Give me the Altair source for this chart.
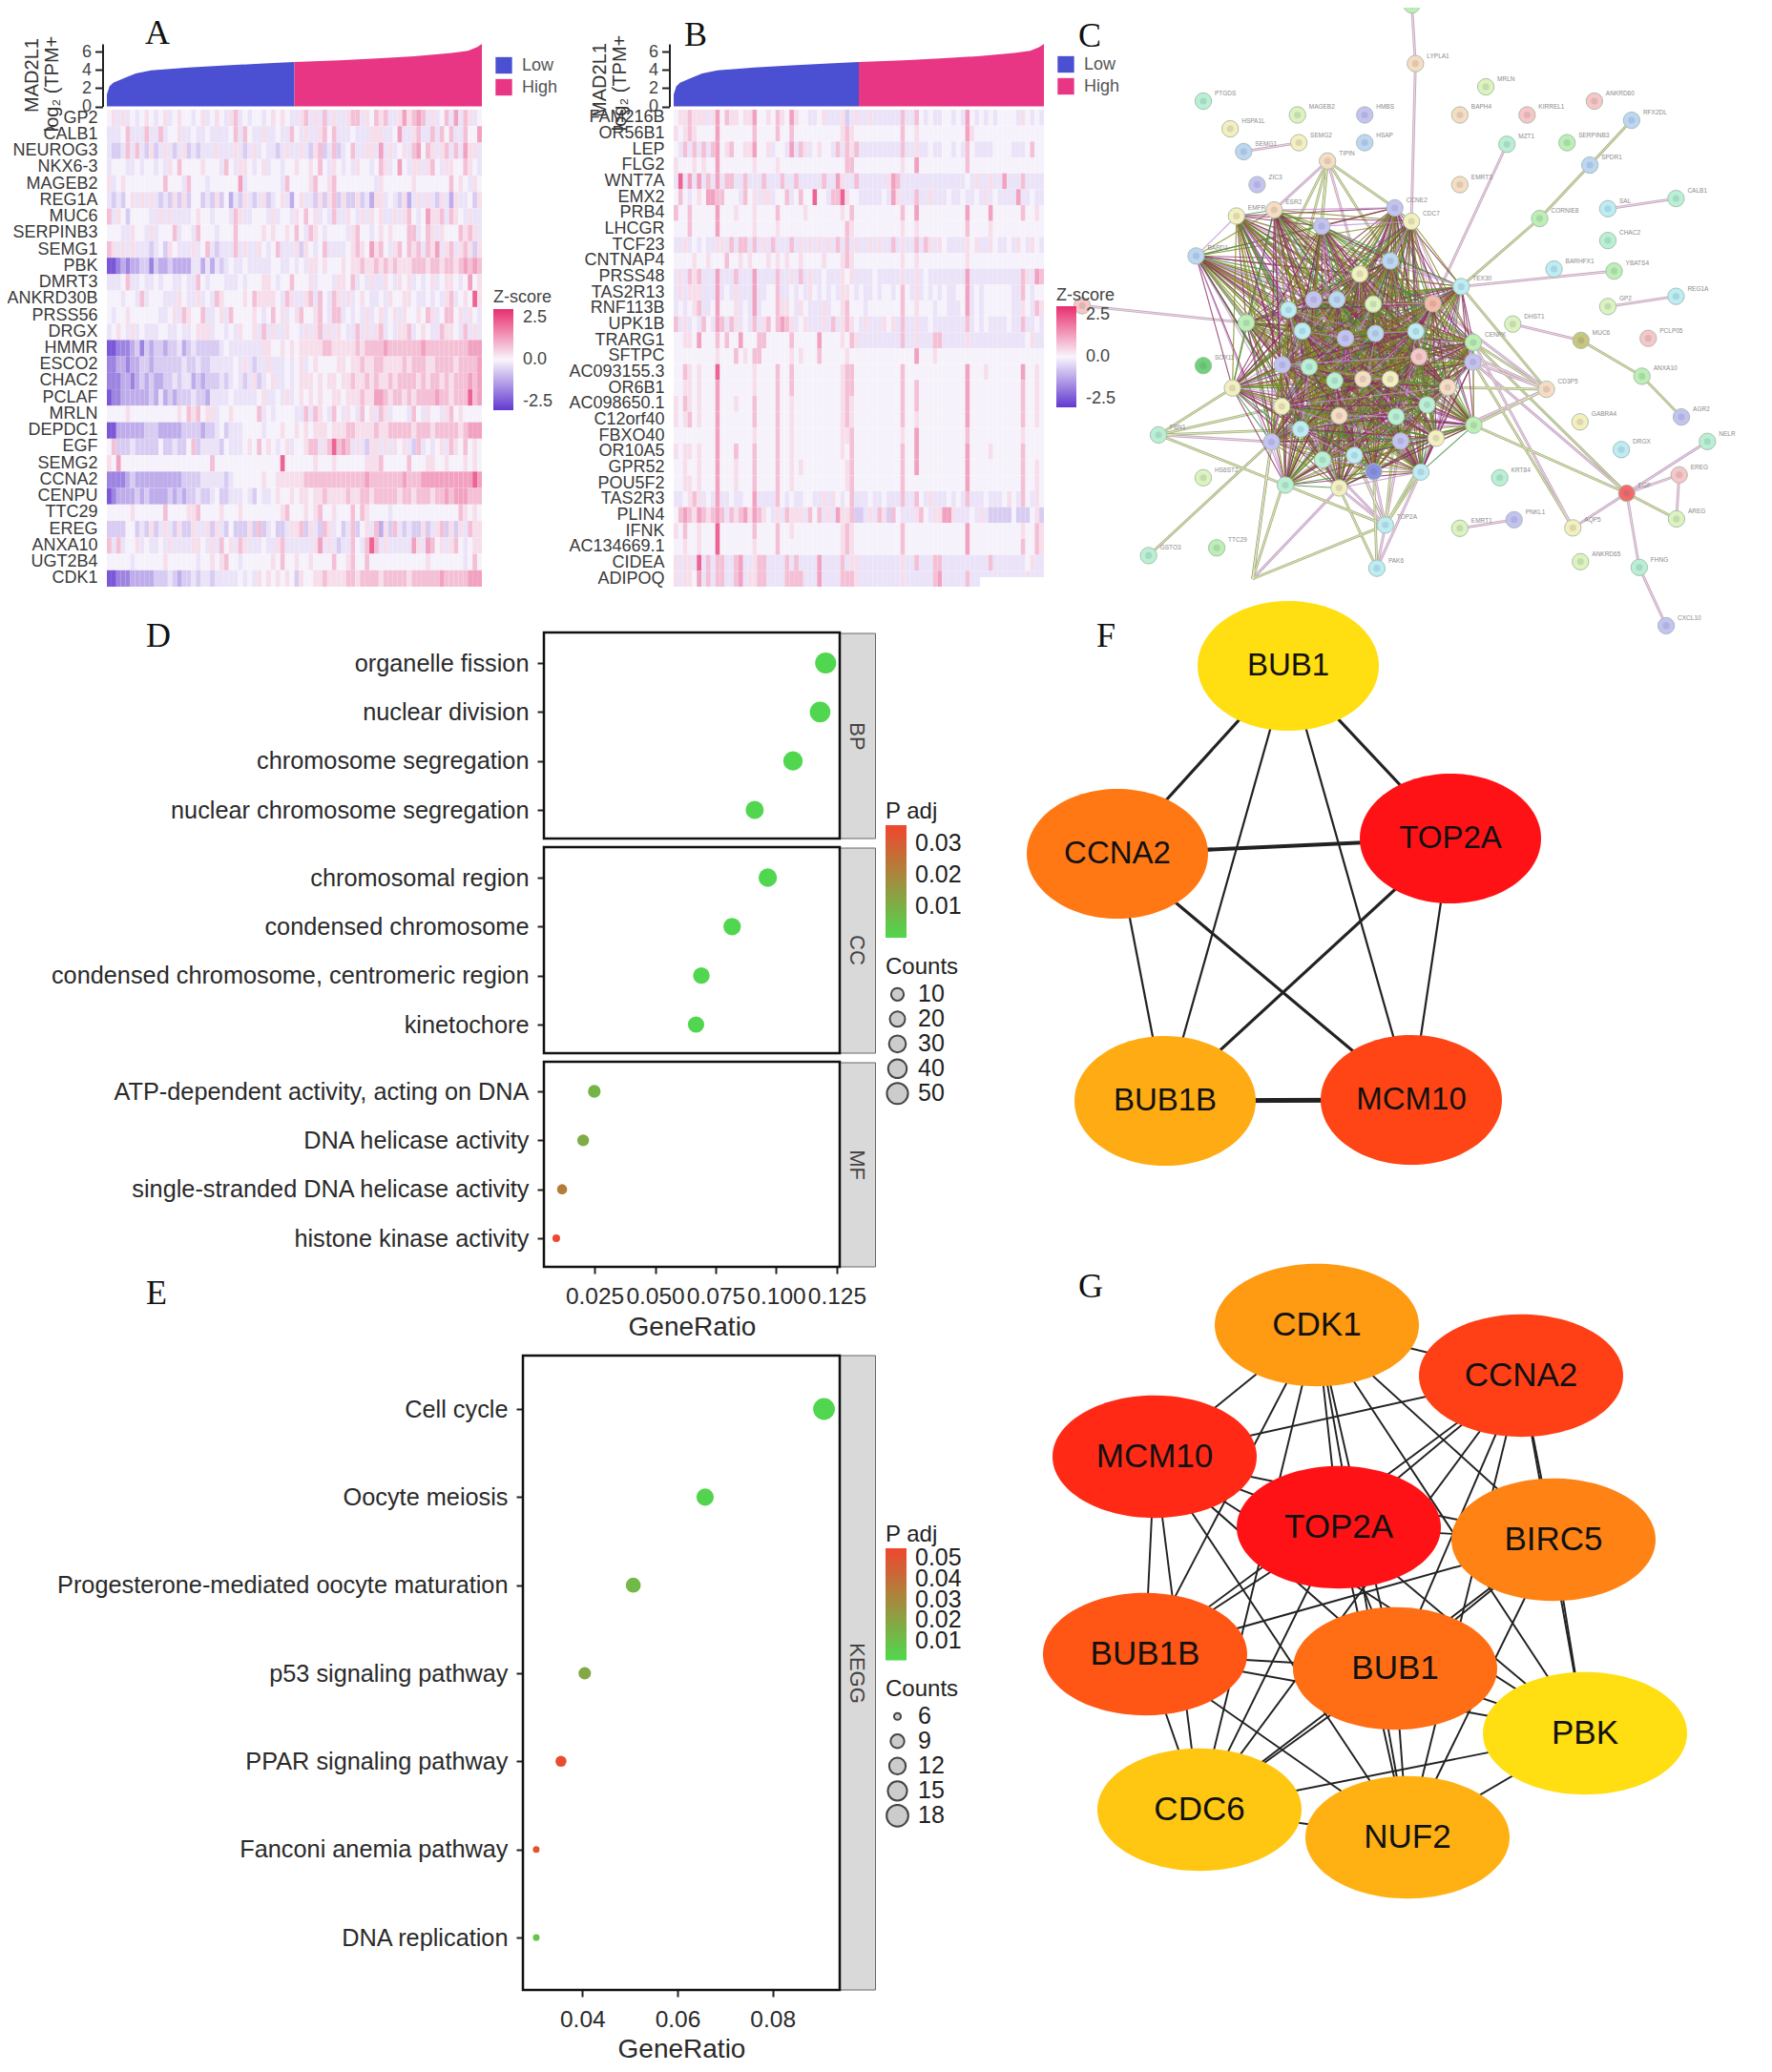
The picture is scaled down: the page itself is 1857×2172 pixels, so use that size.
import itertools
import altair as alt
import pandas as pd

alt.data_transformers.disable_max_rows()

W, H = 1841, 2156
SANS = "Liberation Sans"
SERIF = "Liberation Serif"


def px(v):
    return v - 8


# ---------- panels A / B: expression curve ----------
low_rank = [0, 0.7, 1.7, 4.7, 7.7, 11.8, 21.8, 31.9, 42, 50]
low_value = [1.3, 2.2, 2.6, 3.1, 3.6, 3.95, 4.25, 4.5, 4.7, 4.87]
high_rank = [50, 62, 72, 82, 92, 96.3, 98.8, 100]
high_value = [4.87, 5.05, 5.25, 5.5, 5.85, 6.1, 6.5, 6.85]

genes_a = ["GP2", "CALB1", "NEUROG3", "NKX6-3", "MAGEB2", "REG1A", "MUC6", "SERPINB3", "SEMG1", "PBK",
           "DMRT3", "ANKRD30B", "PRSS56", "DRGX", "HMMR", "ESCO2", "CHAC2", "PCLAF", "MRLN", "DEPDC1",
           "EGF", "SEMG2", "CCNA2", "CENPU", "TTC29", "EREG", "ANXA10", "UGT2B4", "CDK1"]
genes_b = ["FAM216B", "OR56B1", "LEP", "FLG2", "WNT7A", "EMX2", "PRB4", "LHCGR", "TCF23", "CNTNAP4",
           "PRSS48", "TAS2R13", "RNF113B", "UPK1B", "TRARG1", "SFTPC", "AC093155.3", "OR6B1", "AC098650.1",
           "C12orf40", "FBXO40", "OR10A5", "GPR52", "POU5F2", "TAS2R3", "PLIN4", "IFNK", "AC134669.1",
           "CIDEA", "ADIPOQ"]

# one digit per sample bin, read by eye: 0 = deep purple ... 5 = pale ... 9 = deep pink
z_levels = [-2.5, -1.8, -1.15, -0.65, -0.28, -0.05, 0.35, 0.8, 1.25, 2.2]
heat_a = [
    "5646454565 4564565545 6456546745 4554565654 4674647464 4677465767 4468678746 4574847645",
    "4445744474 4745564454 4544445747 5446445447 5464467574 4454446664 4584467447 4757447558",
    "4334747436 3464346343 4446444643 4645443464 4643673473 4574466484 6456478576 4674748664",
    "4555445455 4546575555 6555475466 5456455455 6556575465 4546554576 4585466467 5466557654",
    "6456555555 5575554755 5455555584 5555555475 5556755675 5555555465 5555565555 5557565465",
    "4343564646 4343636355 3436352436 4346345642 5644363673 6336342664 5436246464 3642644536",
    "7465355554 4646444456 5545554764 4555464554 6575645474 4654646564 4646754586 6747654644",
    "5554465546 4555745547 5554555755 5556565565 7547654555 5467554565 6555774576 4655576764",
    "7646464443 4536544464 5743444746 4465457444 6365457444 4567658675 4675767476 8467467636",
    "0012122331 3223222244 2424345445 4444455445 4546656555 6566766767 6766677767 7677678787",
    "4445744544 5455445447 5455544454 5556654557 5556455546 6574546446 5465645456 4566545856",
    "5554554745 5544465446 4547655556 5766665476 4467475476 4645654454 6556654454 5467456596",
    "5455655555 5445647655 7445647555 5654575645 6755675477 4545464564 5646556576 4577564654",
    "4565464544 4554454456 6645545465 5647464465 5464674646 5447464674 5466745654 4766547464",
    "0011123132 3323342343 3333454444 4446655656 5666667766 6667677778 7777777877 7777777888",
    "1122122332 3333334334 3344444546 4344644454 5645655556 6566766776 6667677766 7777677778",
    "1112212323 2233434423 2333434543 4634564454 5666565665 6676676766 7677776767 7676777878",
    "0112222223 2423233343 3244445444 4456445464 5656565566 5666766887 6776767777 8776777978",
    "5555655555 5555565767 5664556555 5574545555 4474765475 4654756476 4555475465 5467565555",
    "0022222233 3222223333 2334534445 5554555655 6565666566 6776666766 7777767776 7777767888",
    "5733343333 3533433573 4444354445 6575654564 5567746797 8746436646 4656437454 5647657565",
    "6585555555 5555555555 5575555555 5555555955 5555655565 5555566675 5555755566 5565556565",
    "1111232222 2222223333 4444434555 5556556666 6677777777 7777787777 7778777888 8888888898",
    "0122223232 2223232334 3345334445 4354456556 5665667666 6766776777 7767767776 7787888777",
    "5555565555 5575555667 5555655565 5555555675 5565675565 5575765555 4555555555 5555576565",
    "3333553436 3464363364 4636435333 6373453346 6736437645 3473564726 3743433634 6736364766",
    "7474556454 4546444466 5464756476 4445446744 4444684643 4475479746 4444486487 5646754566",
    "5555545555 5565555554 5565675545 5555565755 6556555575 5675575555 5555555565 5555554575",
    "0011122222 3334323343 4434444454 5465656565 3655667666 6776777767 7777677777 7877777888",
]
heat_b = [
    "5667666468 5766566855 6576586554 4564446346 4464444447 4475454455 4548545454 5555465454",
    "6567655558 5555555755 5575575555 5555556765 5555555557 5565555555 5558655555 5555555555",
    "5474747478 5675566855 6455484764 5655474767 4444444447 4464454455 4547544445 5554445755",
    "6555656558 5555555655 5565555555 5555555775 5555555556 5585555555 5557555555 5555555555",
    "4948484748 4774474447 4447447444 4474486447 4444446874 4444444444 4445464464 4844474444",
    "5754565887 7555475646 6455745755 9554779655 4444454864 4474464445 4454454645 4444844544",
    "7557555558 5556555655 5575555565 5555556575 5555555557 5585555555 5558555585 5555575565",
    "5557555558 5555555655 5565555555 5555555765 5555555556 5565555555 5557555565 5555555555",
    "4464545446 6474774746 4744474646 4646474746 4464644746 4474764654 4446564465 4454654654",
    "5555655655 5755656555 6565655655 5565556765 5555555556 5565555555 5556555555 5555555555",
    "4647674448 4447444844 4474464746 4454446564 4445444446 4464544444 4448444444 4444476487",
    "4646664448 4546444844 5574454546 5454546654 5445455457 5464545454 4558454555 5554475455",
    "4545674458 5556454845 5576654654 4464556755 5455555557 5565554554 4458454555 5554465476",
    "7464547548 7476454746 7578764564 4464746765 4644465647 4464454444 4447454544 4454474454",
    "5566585557 5755855577 5555575555 5855556576 4444444447 4464447744 4446444444 4444445644",
    "5555555556 5557565775 5555565655 5755555655 5555555555 5585556555 5555555555 5555555555",
    "5576565559 5555555655 5575575555 5555556775 5555555557 5555555555 5558555655 5555585565",
    "5566565558 5555555655 5575575555 5555556775 5555555557 5575555555 5558555555 5555575565",
    "6576565558 5556555755 5575565555 5555556765 5555555557 5575555555 5558555555 5555575565",
    "6567565558 5555555755 5575565555 5555556765 5555555557 5565555555 5558555555 5555575565",
    "5555555558 5555555655 5575565555 5555556675 5555555556 5585555555 5557555555 5555565555",
    "6566565558 5557555755 5575565555 5555556575 5555555557 5585555555 5558555565 5555575555",
    "5565565558 5556555755 5575565655 5555555675 5555555557 5585555555 5558555555 5555575565",
    "5566565558 5556555755 5575565555 5555555675 5555555557 5555555555 5558555555 5555575565",
    "4456764548 4454455844 4475454455 4464654574 4454454447 4475464445 4547444544 4565475465",
    "5787687678 7476786876 5464766647 5746486673 3464763754 4467546688 6444546433 3335333563",
    "6575565559 5555555755 5575565555 5555556765 5555555557 5555555555 5558555555 5555565576",
    "5565565559 5555555655 5575555555 5555556765 5555555557 5555555555 5558555555 5555575576",
    "6466494747 7447844677 4444747444 4844447466 4444444446 4474447744 4444444474 4444445644",
    "6466584747 7447846677 4444777744 4844447776 4444444446 4444447844 4447444444 4444446444",
]

# ---------- panels D / E ----------
bp_terms = ["organelle fission", "nuclear division", "chromosome segregation", "nuclear chromosome segregation"]
bp_ratio = [0.1204, 0.1181, 0.1069, 0.0911]
bp_padj = [0.0002, 0.0002, 0.0003, 0.0005]
bp_count = [50, 48, 43, 37]
cc_terms = ["chromosomal region", "condensed chromosome", "condensed chromosome, centromeric region", "kinetochore"]
cc_ratio = [0.0965, 0.0818, 0.0691, 0.0669]
cc_padj = [0.0002, 0.0003, 0.0004, 0.0005]
cc_count = [39, 33, 28, 27]
mf_terms = ["ATP-dependent activity, acting on DNA", "DNA helicase activity",
            "single-stranded DNA helicase activity", "histone kinase activity"]
mf_ratio = [0.0249, 0.0203, 0.0116, 0.0092]
mf_padj = [0.0085, 0.0105, 0.0225, 0.0352]
mf_count = [10, 8, 5, 4]
kegg_terms = ["Cell cycle", "Oocyte meiosis", "Progesterone-mediated oocyte maturation", "p53 signaling pathway",
              "PPAR signaling pathway", "Fanconi anemia pathway", "DNA replication"]
kegg_ratio = [0.0908, 0.0658, 0.0507, 0.0405, 0.0355, 0.0303, 0.0303]
kegg_padj = [0.001, 0.002, 0.012, 0.018, 0.052, 0.051, 0.008]
kegg_count = [18, 13, 10, 8, 7, 6, 6]

# ---------- panel F / G hub networks ----------
f_genes = ["BUB1", "CCNA2", "TOP2A", "BUB1B", "MCM10"]
f_x = [1350, 1171, 1520, 1221, 1479]
f_y = [698, 895, 879, 1154, 1153]
f_score = [1, 3, 5, 2, 4]
f_edges = [(0, 1), (0, 2), (0, 3), (0, 4), (1, 2), (1, 3), (1, 4), (2, 3), (2, 4), (3, 4)]
f_weight = [2, 2, 1, 1, 3, 1, 2, 2, 1, 4]

g_genes = ["CDK1", "CCNA2", "MCM10", "TOP2A", "BIRC5", "BUB1B", "BUB1", "PBK", "CDC6", "NUF2"]
g_x = [1380, 1594, 1210, 1403, 1628, 1200, 1462, 1661, 1257, 1475]
g_y = [1389, 1442, 1527, 1601, 1614, 1734, 1749, 1817, 1897, 1926]
g_score = [4, 8, 9, 10, 5, 7, 6, 1, 2, 3]
g_edges = list(itertools.combinations(range(10), 2))
g_weight = [2] * len(g_edges)

# ---------- panel C: protein interaction network ----------
net_x = [765, 773, 300, 510, 660, 360, 390, 513, 660, 577, 420, 872, 930, 1022, 977, 1172, 1255, 1111, 1162, 872,
         1050, 1202, 1354, 1202, 1082, 1216, 1354, 1202, 990, 1142, 1292, 1278, 1065, 1366, 1140, 1424, 1232, 1361,
         1244, 961, 1355, 1124, 872, 993, 1141, 1272, 1332, 300, 300, 330, 178, 200, 687, 706, 30, 396, 284, 374,
         458, 727, 764, 564, 875, 365, 452, 483, 603, 785, 903, 901, 902, 717, 649, 546, 598, 490, 679, 812, 521,
         617, 684, 774, 781, 476, 536, 593, 656, 717, 845, 475, 603, 730, 799, 517, 740, 819, 566, 637, 680, 410]
net_y = [12, 156, 248, 282, 282, 316, 372, 350, 350, 395, 453, 282, 213, 282, 354, 248, 295, 350, 405, 453,
         536, 512, 487, 590, 660, 665, 727, 752, 795, 835, 830, 923, 955, 1023, 1035, 1083, 1103, 1165,
         1210, 1172, 1273, 1295, 1296, 1275, 1378, 1392, 1535, 897, 1172, 1344, 1363, 1067, 1394, 1288, 750, 792, 628,
         530, 515, 510, 543, 555, 703, 952, 1084, 1190, 1197, 1158, 1043, 888, 840, 640, 672, 735, 735, 760, 746, 745,
         812, 830, 818, 813, 875, 895, 900, 934, 930, 930, 950, 997, 1020, 1022, 993, 1053, 1082, 1075, 1128, 1117,
         1157, 1420]
net_group = ["green", "peach", "mint", "lime", "purple", "butter", "blue", "butter", "blue", "peach", "purple", "peach",
             "lime", "pink", "mint", "pink", "blue", "green", "blue", "peach", "green", "cyan", "mint", "mint", "cyan",
             "green", "cyan", "lime", "lime", "olive", "pink", "green", "peach", "purple", "butter", "mint", "cyan",
             "pink", "red", "mint", "lime", "butter", "lime", "purple", "lime", "mint", "purple", "deepgreen", "lime",
             "green", "mint", "mint", "cyan", "cyan", "pink", "green", "blue", "butter", "peach", "purple", "butter",
             "purple", "cyan", "butter", "purple", "mint", "butter", "cyan", "green", "purple", "green", "blue", "butter",
             "purple", "blue", "cyan", "lime", "salmon", "cyan", "purple", "blue", "cyan", "pink", "purple", "mint",
             "mint", "peach", "butter", "peach", "butter", "peach", "mint", "mint", "cyan", "purple", "butter", "mint",
             "cyan", "deepblue", "cyan"]
net_label = ["", "LYPLA1", "PTGDS", "MAGEB2", "HMBS", "HSPA1L", "SEMG1", "SEMG2", "HSAP", "TIPIN", "ZIC3", "BAPH4",
             "MRLN", "KIRREL1", "MZT1", "ANKRD60", "RFX2DL", "SERPINB3", "SPDR1", "EMRT3", "CORNIE8", "SAL", "CALB1",
             "CHAC2", "BARHFX1", "YBATS4", "REG1A", "GP2", "DHST1", "MUC6", "PCLP05", "ANXA10", "CD3P5", "AGR2",
             "GABRA4", "NELR", "DRGX", "EREG", "EGF", "KRT84", "AREG", "AQP5", "EMRT1", "PNKL1", "ANKRD65", "FHNG",
             "CXCL10", "SOX11", "HS6ST2", "TTC29", "GSTO3", "FBN1", "PAK6", "TOP2A", "", "", "BARD1", "EMFR", "ESR2",
             "CCNE2", "CDC7", "", "TEX30", "", "", "", "", "", "", "", "CENPK", "", "", "", "", "", "", "", "", "", "",
             "", "", "", "", "", "", "", "", "", "", "", "", "", "", "", "", "", "", ""]
net_side = [(1, 2), (2, 61), (7, 8), (10, 59), (10, 62), (10, 60), (10, 74), (10, 73), (10, 72), (10, 56), (10, 76),
            (17, 19), (19, 21), (21, 63), (15, 78), (26, 63), (23, 22), (27, 28), (29, 30), (30, 32), (32, 34),
            (55, 56), (39, 36), (39, 38), (39, 41), (38, 41), (39, 42), (39, 46), (46, 47), (43, 44), (39, 70),
            (39, 71), (42, 70), (42, 71), (39, 69), (33, 70), (33, 71), (33, 69), (33, 63), (33, 78), (33, 82),
            (33, 96), (33, 89), (52, 64), (52, 65), (52, 94), (52, 90), (52, 66), (51, 65), (53, 54), (53, 67),
            (53, 96), (53, 99), (100, 65), (100, 67), (100, 54), (100, 94), (100, 84), (54, 66), (54, 67), (54, 97),
            (54, 98), (54, 99), (54, 95), (54, 92), (54, 96), (54, 68), (54, 91)]
net_core = list(range(56, 100))
core_kinds = ["olive", "maroon", "olive", "green", "maroon", "olive", "maroon", "lilac"]


# ---------- helpers ----------
def blank():
    return alt.Chart(pd.DataFrame({"k": [0]}))


def text_at(label, x, y, size, font=SANS, color="#333333", angle=0):
    return blank().mark_text(text=label, fontSize=size, font=font, color=color, angle=angle,
                             align="center", baseline="middle").encode(x=alt.value(px(x)), y=alt.value(px(y)))


def box(x0, x1, y0, y1, **mark):
    return blank().mark_rect(**mark).encode(x=alt.value(px(x0)), x2=alt.value(px(x1)),
                                            y=alt.value(px(y0)), y2=alt.value(px(y1)))


def curve(x0, x1, legend_x, legend_y):
    rows = [{"rank": r, "value": v, "group": "Low"} for r, v in zip(low_rank, low_value)]
    rows += [{"rank": r, "value": v, "group": "High"} for r, v in zip(high_rank, high_value)]
    return alt.Chart(pd.DataFrame(rows)).mark_area().encode(
        x=alt.X("rank:Q", axis=None, scale=alt.Scale(domain=[0, 100], range=[px(x0), px(x1)], nice=False)),
        y=alt.Y("value:Q", stack=None, scale=alt.Scale(domain=[0, 6.85], range=[px(111.5), px(46)], nice=False),
                axis=alt.Axis(orient="left", offset=-px(x0 - 4.5), values=[0, 2, 4, 6], title=None, grid=False,
                              tickSize=8, tickWidth=2, tickColor="#222222", domainColor="#222222", domainWidth=2,
                              labelFontSize=18, labelColor="#444444", labelFont=SANS, labelPadding=4,
                              labelOverlap=False)),
        color=alt.Color("group:N", scale=alt.Scale(domain=["Low", "High"], range=["#4b4fd1", "#e83584"]),
                        legend=alt.Legend(orient="none", legendX=px(legend_x), legendY=px(legend_y), title=None,
                                          symbolType="square", symbolSize=300, clipHeight=21, labelFontSize=18,
                                          labelColor="#555555", labelFont=SANS, labelOffset=10, symbolStrokeWidth=0)),
    )


def heat(genes, rows, x0, x1, legend_x, legend_y, title_pad):
    recs = []
    for gene, row in zip(genes, rows):
        cells = row.replace(" ", "")
        for i, c in enumerate(cells):
            recs.append({"gene": gene, "col": i, "col_end": i + 1, "z": z_levels[int(c)]})
    return alt.Chart(pd.DataFrame(recs)).mark_rect().encode(
        x=alt.X("col:Q", axis=None, scale=alt.Scale(domain=[0, 80], range=[px(x0), px(x1)], nice=False)),
        x2="col_end:Q",
        y=alt.Y("gene:N", scale=alt.Scale(domain=genes, range=[px(115), px(615)], paddingInner=0, paddingOuter=0),
                axis=alt.Axis(orient="left", offset=-px(x0), title=None, ticks=False, domain=False, labelFontSize=18,
                              labelColor="#3a3a3a", labelFont=SANS, labelPadding=10, labelOverlap=False)),
        color=alt.Color("z:Q", scale=alt.Scale(domain=[-3, 0, 3], range=["#6238cf", "#f9f5fc", "#e82e6e"],
                                               interpolate="rgb"),
                        legend=alt.Legend(orient="none", legendX=px(legend_x), legendY=px(legend_y), title="Z-score",
                                          values=[-2.5, 0, 2.5], format=".1f",
                                          labelExpr="replace(datum.label, '−', '-')", gradientLength=106,
                                          gradientThickness=21, titleFontSize=18, titleColor="#444444", titleFont=SANS,
                                          titleFontWeight="normal", titlePadding=title_pad, labelFontSize=18,
                                          labelColor="#444444", labelFont=SANS, labelOffset=10, labelOverlap=False,
                                          gradientStrokeWidth=0)),
    )


def dots(terms, ratio, padj, count, x_scale, x_axis, y0, y1, axis_x, color_scale, size_scale, color_legend, size_legend):
    df = pd.DataFrame({"term": terms, "ratio": ratio, "padj": padj, "count": count})
    return alt.Chart(df).mark_circle(opacity=1).encode(
        x=alt.X("ratio:Q", scale=x_scale, axis=x_axis),
        y=alt.Y("term:N", scale=alt.Scale(type="point", domain=terms, range=[px(y0), px(y1)], padding=0),
                axis=alt.Axis(orient="left", offset=-px(axis_x), title=None, domain=False, tickSize=7, tickWidth=2,
                              tickColor="#222222", labelFontSize=25.3, labelColor="#2a2a2a", labelFont=SANS,
                              labelPadding=9, labelOverlap=False, labelLimit=800)),
        color=alt.Color("padj:Q", scale=color_scale, legend=color_legend),
        size=alt.Size("count:Q", scale=size_scale, legend=size_legend),
    )


def gradient_legend(x, y, length, values):
    return alt.Legend(orient="none", legendX=px(x), legendY=px(y), title="P adj", values=values, format=".2f",
                      gradientLength=length, gradientThickness=22, titleFontSize=24, titleFont=SANS,
                      titleFontWeight="normal", titleColor="#222222", titlePadding=2, labelFontSize=25, labelFont=SANS,
                      labelColor="#222222", labelOffset=9, labelOverlap=False, gradientStrokeWidth=0)


def size_legend(x, y, values):
    return alt.Legend(orient="none", legendX=px(x), legendY=px(y), title="Counts", values=values, clipHeight=24.6,
                      titleFontSize=24, titleFont=SANS, titleFontWeight="normal", titleColor="#222222", titlePadding=4,
                      labelFontSize=25, labelFont=SANS, labelColor="#222222", labelOffset=9, symbolFillColor="#cccccc",
                      symbolStrokeColor="#444444", symbolStrokeWidth=2, symbolOpacity=1, rowPadding=0)


def x_axis(values, fmt, y, title_pad):
    return alt.Axis(orient="bottom", offset=px(y) - H, values=values, format=fmt, title="GeneRatio", titleFontSize=28,
                    titleFont=SANS, titleFontWeight="normal", titleColor="#2a2a2a", titlePadding=title_pad, grid=False,
                    domain=False, tickSize=7, tickWidth=2, tickColor="#222222", labelFontSize=24.5, labelFont=SANS,
                    labelColor="#2a2a2a", labelOverlap=False, labelFlush=False, labelPadding=12)


def hub(genes, xs, ys, scores, edges, weights, width_ratio, node_w, font_size, edge_range):
    sx = alt.Scale(domain=[0, 1857], range=[-8, 1849], nice=False)
    sy = alt.Scale(domain=[0, 2172], range=[-8, 2164], nice=False)
    edge_df = pd.DataFrame([{"x": xs[a], "y": ys[a], "x2": xs[b], "y2": ys[b], "w": w}
                            for (a, b), w in zip(edges, weights)])
    node_df = pd.DataFrame({"gene": genes, "x": xs, "y": ys, "score": scores})
    ellipse = f"M-1,0A1,{width_ratio},0,1,1,1,0A1,{width_ratio},0,1,1,-1,0Z"
    return [
        alt.Chart(edge_df).mark_rule(color="#222222").encode(
            x=alt.X("x:Q", scale=sx, axis=None), x2="x2:Q", y=alt.Y("y:Q", scale=sy, axis=None), y2="y2:Q",
            size=alt.Size("w:Q", legend=None, scale=alt.Scale(domain=[1, 4], range=edge_range))),
        alt.Chart(node_df).mark_point(shape=ellipse, filled=True, opacity=1, size=node_w ** 2).encode(
            x=alt.X("x:Q", scale=sx, axis=None), y=alt.Y("y:Q", scale=sy, axis=None),
            color=alt.Color("score:Q", legend=None,
                            scale=alt.Scale(domain=[min(scores), max(scores)], range=["#ffde12", "#ff1216"],
                                            interpolate="rgb"))),
        alt.Chart(node_df).mark_text(font=SANS, fontSize=font_size, color="#111111").encode(
            x=alt.X("x:Q", scale=sx, axis=None), y=alt.Y("y:Q", scale=sy, axis=None), text="gene:N"),
    ]


# ---------- assemble ----------
layers = []

# A and B
layers += [heat(genes_a, heat_a, 112, 505, 517, 303, 3), curve(112, 505, 519, 58)]
layers += [heat(genes_b, heat_b, 706, 1094, 1107, 301, 2), curve(706, 1094, 1108, 57)]
layers.append(box(1027, 1094, 605, 616, color="white"))
layers += [text_at("MAD2L1", 34, 79, 20, angle=270), text_at("log₂ (TPM+", 55, 88, 20, angle=270),
           text_at("MAD2L1", 629, 84, 20, angle=270), text_at("log₂ (TPM+", 650, 87, 20, angle=270)]

# C
net_sx = alt.Scale(domain=[0, 1568], range=[px(1120), px(1857)], nice=False)
net_sy = alt.Scale(domain=[0, 1568], range=[px(0), px(670)], nice=False)
core_edges = []
for a, b in itertools.combinations(net_core, 2):
    core_edges.append({"x": net_x[a - 1], "y": net_y[a - 1], "x2": net_x[b - 1], "y2": net_y[b - 1],
                       "kind": core_kinds[(a + 3 * b) % len(core_kinds)]})
side_edges = [{"x": net_x[a - 1], "y": net_y[a - 1], "x2": net_x[b - 1], "y2": net_y[b - 1],
               "kind": "lilac" if (a + b) % 2 else "sage"} for a, b in net_side]
pale_edges = [dict(e, kind="pale") for e in side_edges]
edge_color = alt.Scale(domain=["olive", "maroon", "green", "pale", "lilac", "sage"],
                       range=["#7d8c1e", "#8c2f63", "#3f8f3f", "#e8efb8", "#c08fd0", "#9aa878"])
for recs, width, alpha in [(side_edges, 2.8, 0.85), (pale_edges, 1, 0.9), (core_edges, 1.15, 0.8)]:
    layers.append(alt.Chart(pd.DataFrame(recs)).mark_rule(strokeWidth=width, opacity=alpha).encode(
        x=alt.X("x:Q", scale=net_sx, axis=None), x2="x2:Q",
        y=alt.Y("y:Q", scale=net_sy, axis=None), y2="y2:Q",
        color=alt.Color("kind:N", scale=edge_color, legend=None)))
net_df = pd.DataFrame({"x": net_x, "y": net_y, "group": net_group, "label": net_label}).iloc[:-1]
node_colors = alt.Scale(
    domain=["mint", "cyan", "blue", "purple", "peach", "butter", "lime", "pink", "green", "olive", "red", "deepgreen",
            "deepblue", "salmon"],
    range=["#b9f0d4", "#bdecf4", "#bcd6f4", "#c4c2f2", "#f8dcc2", "#f5efbe", "#dcf3be", "#f8c6c6", "#bcefb4", "#c9c57c",
           "#f26a6a", "#6fd17a", "#8a90e0", "#f6b9a8"])
layers.append(alt.Chart(net_df).mark_circle(opacity=1, size=300, stroke="#a8c0b0", strokeWidth=1).encode(
    x=alt.X("x:Q", scale=net_sx, axis=None), y=alt.Y("y:Q", scale=net_sy, axis=None),
    color=alt.Color("group:N", scale=node_colors, legend=None)))
layers.append(alt.Chart(net_df).mark_circle(opacity=0.16, size=50, color="#4a6070").encode(
    x=alt.X("x:Q", scale=net_sx, axis=None), y=alt.Y("y:Q", scale=net_sy, axis=None)))
layers.append(alt.Chart(net_df).mark_text(fontSize=6.5, color="#8a8a8a", align="left", dx=12, dy=-8, font=SANS).encode(
    x=alt.X("x:Q", scale=net_sx, axis=None), y=alt.Y("y:Q", scale=net_sy, axis=None), text="label:N"))

# D
d_x = alt.Scale(domain=[0.0041, 0.1262], range=[px(570), px(880)], nice=False)
d_color = alt.Scale(domain=[0, 0.0358], range=["#4fd84f", "#f0462e"], interpolate="rgb")
d_size = alt.Scale(domain=[4, 5, 8, 10, 20, 30, 40, 50], range=[64, 113, 154, 177, 254, 314, 380, 490])
for y0, y1, label, label_y in [(664, 879, "BP", 772), (889, 1104, "CC", 996), (1114, 1328, "MF", 1221)]:
    layers.append(box(880, 917.5, y0, y1, color="#d9d9d9", stroke="#666666", strokeWidth=1))
    layers.append(text_at(label, 898, label_y, 22, color="#444444", angle=90))
layers.append(dots(bp_terms, bp_ratio, bp_padj, bp_count, d_x, None, 695, 849, 570, d_color, d_size,
                   gradient_legend(928, 839, 118, [0.01, 0.02, 0.03]), size_legend(928, 1002, [10, 20, 30, 40, 50])))
layers.append(dots(cc_terms, cc_ratio, cc_padj, cc_count, d_x, None, 920, 1074, 570, d_color, d_size, None, None))
layers.append(dots(mf_terms, mf_ratio, mf_padj, mf_count,
                   d_x, x_axis([0.025, 0.05, 0.075, 0.1, 0.125], ".3f", 1328, 7), 1144, 1298, 570, d_color, d_size,
                   None, None))
for y0, y1 in [(663, 879), (888, 1104), (1113, 1328)]:
    layers.append(box(570, 880, y0, y1, fillOpacity=0, stroke="#111111", strokeWidth=2.5))

# E
e_x = alt.Scale(domain=[0.0275, 0.0941], range=[px(548), px(880)], nice=False)
e_color = alt.Scale(domain=[0.0006, 0.0546], range=["#4fd84f", "#f0462e"], interpolate="rgb")
e_size = alt.Scale(domain=[6, 7, 10, 13, 18], range=[50, 133, 245, 330, 520])
layers.append(box(880, 917.5, 1421, 2086, color="#d9d9d9", stroke="#666666", strokeWidth=1))
layers.append(text_at("KEGG", 898, 1754, 22, color="#444444", angle=90))
layers.append(dots(kegg_terms, kegg_ratio, kegg_padj, kegg_count,
                   e_x, x_axis([0.04, 0.06, 0.08], ".2f", 2086, 6), 1477, 2031, 548, e_color, e_size,
                   gradient_legend(928, 1597, 117.5, [0.01, 0.02, 0.03, 0.04, 0.05]),
                   size_legend(928, 1759, [6, 9, 12, 15, 18])))
layers.append(box(548, 880, 1421, 2086, fillOpacity=0, stroke="#111111", strokeWidth=2.5))

# F and G
layers += hub(f_genes, f_x, f_y, f_score, f_edges, f_weight, 0.716, 190, 33, [2.2, 5])
layers += hub(g_genes, g_x, g_y, g_score, g_edges, g_weight, 0.6, 214, 35, [1.6, 2.6])

# panel letters
for letter, x, y in [("A", 165, 35), ("B", 729, 37), ("C", 1142, 38), ("D", 166, 667), ("E", 164, 1356),
                     ("F", 1159, 667), ("G", 1143, 1349)]:
    layers.append(text_at(letter, x, y, 36, font=SERIF, color="#111111"))

chart = (
    alt.layer(*layers)
    .resolve_scale(x="independent", y="independent", color="independent", size="independent")
    .properties(width=W, height=H, padding=0, autosize=alt.AutoSizeParams(type="none"), background="white")
    .configure_view(stroke=None)
)

chart.save("out.html", embed_options={"renderer": "svg", "actions": False})
